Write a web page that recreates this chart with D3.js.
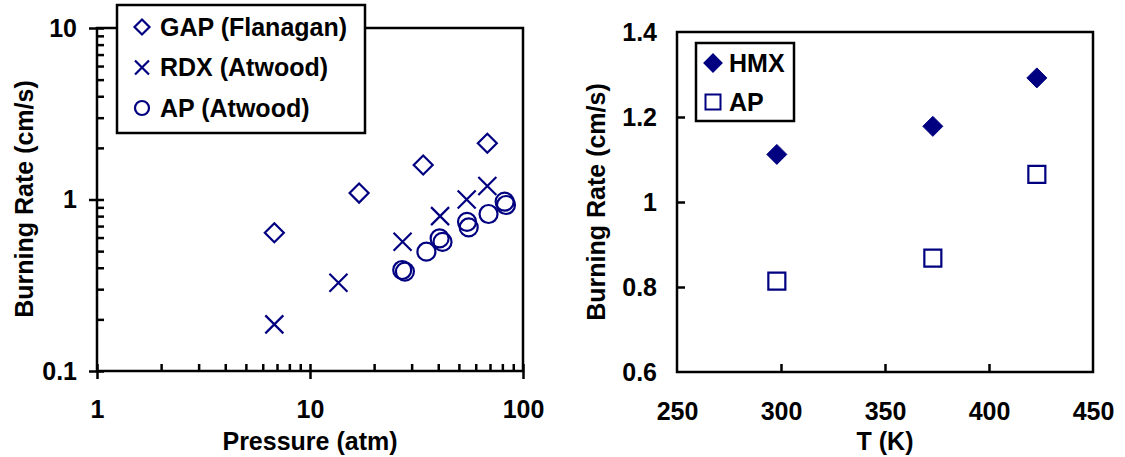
<!DOCTYPE html>
<html>
<head>
<meta charset="utf-8">
<script src="https://cdn.jsdelivr.net/npm/d3@7"></script>
<style>
  body { margin: 0; background: #fff; }
  text { font-family: "Liberation Sans", Arial, sans-serif; font-weight: bold; font-size: 25px; fill: #000; }
</style>
</head>
<body>
<script>
// ---- left panel data (pressure in atm, burning rate in cm/s)
var gapP    = [6.8, 17, 34, 68];
var gapRate = [0.64, 1.09, 1.59, 2.13];

var rdxP    = [6.8, 13.6, 27.2, 40.8, 54.4, 68];
var rdxRate = [0.187, 0.327, 0.567, 0.80, 1.0, 1.2];

var apP     = [27.1, 27.9, 35.2, 40.6, 41.9, 54.6, 55.6, 68.9, 82, 83.2];
var apRate  = [0.388, 0.38, 0.496, 0.593, 0.566, 0.741, 0.687, 0.823, 0.971, 0.929];

var leftXTicks = [1, 10, 100];
var leftYTicks = [0.1, 1, 10];

// ---- right panel data (temperature in K)
var tempK    = [298, 373, 423];
var hmxRate  = [1.112, 1.178, 1.292];
var apTRate  = [0.814, 0.868, 1.065];

var rightXTicks = [250, 300, 350, 400, 450];
var rightYTicks = [0.6, 0.8, 1, 1.2, 1.4];

var navy = "#000080";

var svg = d3.select("body").append("svg")
    .attr("width", 1125)
    .attr("height", 457);

function zip(a, b) { return a.map(function(d, i) { return [d, b[i]]; }); }

// marker paths, r = half size
function diamond(r) { return "M0," + (-r) + "L" + r + ",0L0," + r + "L" + (-r) + ",0Z"; }
function cross(r) { return "M" + (-r) + "," + (-r) + "L" + r + "," + r + "M" + r + "," + (-r) + "L" + (-r) + "," + r; }
function square(r) { return "M" + (-r) + "," + (-r) + "H" + r + "V" + r + "H" + (-r) + "Z"; }
function circle(r) { return "M" + r + ",0A" + r + "," + r + " 0 1,1 " + (-r) + ",0A" + r + "," + r + " 0 1,1 " + r + ",0Z"; }

function cleanAxis(g) {
    g.select(".domain").remove();
    g.selectAll("line").attr("stroke", "#000").attr("stroke-width", 2.5);
    g.selectAll("text").attr("fill", "#000").style("font-size", "25px");
}

// ================= LEFT PANEL =================
var lx = d3.scaleLog().domain([1, 100]).range([97, 523]);
var ly = d3.scaleLog().domain([0.1, 10]).range([371, 28]);

var xMinor = [2,3,4,5,6,7,8,9,20,30,40,50,60,70,80,90];
var yMinor = [0.2,0.3,0.4,0.5,0.6,0.7,0.8,0.9,2,3,4,5,6,7,8,9];

var left = svg.append("g");

// inner ticks (minor + major)
left.append("g")
    .attr("transform", "translate(0,371)")
    .call(d3.axisTop(lx).tickValues(xMinor.concat(leftXTicks)).tickSize(7).tickSizeOuter(0).tickFormat(""))
    .call(cleanAxis);
left.append("g")
    .attr("transform", "translate(97,0)")
    .call(d3.axisRight(ly).tickValues(yMinor.concat(leftYTicks)).tickSize(7).tickSizeOuter(0).tickFormat(""))
    .call(cleanAxis);

// outer major ticks + labels
left.append("g")
    .attr("transform", "translate(0,371)")
    .call(d3.axisBottom(lx).tickValues(leftXTicks).tickSize(8).tickSizeOuter(0).tickPadding(21).tickFormat(String))
    .call(cleanAxis);
left.append("g")
    .attr("transform", "translate(97,0)")
    .call(d3.axisLeft(ly).tickValues(leftYTicks).tickSize(8).tickSizeOuter(0).tickPadding(12).tickFormat(String))
    .call(cleanAxis);

left.append("rect")
    .attr("x", lx(1)).attr("y", ly(10))
    .attr("width", lx(100) - lx(1)).attr("height", ly(0.1) - ly(10))
    .attr("fill", "none").attr("stroke", "#000").attr("stroke-width", 2.5);

left.append("g").selectAll("path").data(zip(gapP, gapRate)).enter().append("path")
    .attr("transform", function(d) { return "translate(" + lx(d[0]) + "," + ly(d[1]) + ")"; })
    .attr("d", diamond(9.5)).attr("fill", "none").attr("stroke", navy).attr("stroke-width", 2.2);

left.append("g").selectAll("path").data(zip(rdxP, rdxRate)).enter().append("path")
    .attr("transform", function(d) { return "translate(" + lx(d[0]) + "," + ly(d[1]) + ")"; })
    .attr("d", cross(9)).attr("fill", "none").attr("stroke", navy).attr("stroke-width", 2.2);

left.append("g").selectAll("path").data(zip(apP, apRate)).enter().append("path")
    .attr("transform", function(d) { return "translate(" + lx(d[0]) + "," + ly(d[1]) + ")"; })
    .attr("d", circle(9)).attr("fill", "none").attr("stroke", navy).attr("stroke-width", 2.2);

// legend
var leftLegend = [
    {name: "GAP (Flanagan)", shape: diamond(7.5)},
    {name: "RDX (Atwood)", shape: cross(7)},
    {name: "AP (Atwood)", shape: circle(7)}
];
var lleg = left.append("g");
lleg.append("rect").attr("x", 117).attr("y", 5).attr("width", 248).attr("height", 128)
    .attr("fill", "#fff").attr("stroke", "#000").attr("stroke-width", 2.5);
var lrow = lleg.selectAll(".row").data(leftLegend).enter().append("g")
    .attr("class", "row")
    .attr("transform", function(d, i) { return "translate(142," + (27 + i * 40.5) + ")"; });
lrow.append("path").attr("d", function(d) { return d.shape; })
    .attr("fill", "none").attr("stroke", navy).attr("stroke-width", 2.2);
lrow.append("text").attr("x", 18).attr("dy", "0.35em").text(function(d) { return d.name; });

left.append("text")
    .attr("transform", "translate(24,199) rotate(-90)")
    .attr("text-anchor", "middle").attr("dy", "0.35em")
    .text("Burning Rate (cm/s)");
left.append("text")
    .attr("x", 310).attr("y", 450)
    .attr("text-anchor", "middle")
    .text("Pressure (atm)");

// ================= RIGHT PANEL =================
var rx = d3.scaleLinear().domain([250, 450]).range([677, 1093]);
var ry = d3.scaleLinear().domain([0.6, 1.4]).range([372, 32]);

var right = svg.append("g");

right.append("g")
    .attr("transform", "translate(0,372)")
    .call(d3.axisTop(rx).tickValues(rightXTicks.slice(1, -1)).tickSize(8).tickSizeOuter(0).tickFormat(""))
    .call(cleanAxis);
right.append("g")
    .attr("transform", "translate(677,0)")
    .call(d3.axisRight(ry).tickValues(rightYTicks.slice(1, -1)).tickSize(8).tickSizeOuter(0).tickFormat(""))
    .call(cleanAxis);

right.append("g")
    .attr("transform", "translate(0,372)")
    .call(d3.axisBottom(rx).tickValues(rightXTicks).tickSize(0).tickSizeOuter(0).tickPadding(30).tickFormat(String))
    .call(cleanAxis);
right.append("g")
    .attr("transform", "translate(677,0)")
    .call(d3.axisLeft(ry).tickValues(rightYTicks).tickSize(0).tickSizeOuter(0).tickPadding(20).tickFormat(String))
    .call(cleanAxis);

right.append("rect")
    .attr("x", rx(250)).attr("y", ry(1.4))
    .attr("width", rx(450) - rx(250)).attr("height", ry(0.6) - ry(1.4))
    .attr("fill", "none").attr("stroke", "#000").attr("stroke-width", 2.5);

right.append("g").selectAll("path").data(zip(tempK, hmxRate)).enter().append("path")
    .attr("transform", function(d) { return "translate(" + rx(d[0]) + "," + ry(d[1]) + ")"; })
    .attr("d", diamond(10)).attr("fill", navy).attr("stroke", navy).attr("stroke-width", 1);

right.append("g").selectAll("path").data(zip(tempK, apTRate)).enter().append("path")
    .attr("transform", function(d) { return "translate(" + rx(d[0]) + "," + ry(d[1]) + ")"; })
    .attr("d", square(8.5)).attr("fill", "none").attr("stroke", navy).attr("stroke-width", 2.2);

var rightLegend = [
    {name: "HMX", shape: diamond(8.5), fill: navy},
    {name: "AP", shape: square(7.5), fill: "none"}
];
var rleg = right.append("g");
rleg.append("rect").attr("x", 696).attr("y", 43).attr("width", 98).attr("height", 78)
    .attr("fill", "#fff").attr("stroke", "#000").attr("stroke-width", 2.5);
var rrow = rleg.selectAll(".row").data(rightLegend).enter().append("g")
    .attr("class", "row")
    .attr("transform", function(d, i) { return "translate(713," + (63 + i * 39) + ")"; });
rrow.append("path").attr("d", function(d) { return d.shape; })
    .attr("fill", function(d) { return d.fill; }).attr("stroke", navy).attr("stroke-width", 2);
rrow.append("text").attr("x", 16).attr("dy", "0.35em").text(function(d) { return d.name; });

right.append("text")
    .attr("transform", "translate(596,202) rotate(-90)")
    .attr("text-anchor", "middle").attr("dy", "0.35em")
    .text("Burning Rate (cm/s)");
right.append("text")
    .attr("x", 885).attr("y", 450)
    .attr("text-anchor", "middle")
    .text("T (K)");
</script>
</body>
</html>
